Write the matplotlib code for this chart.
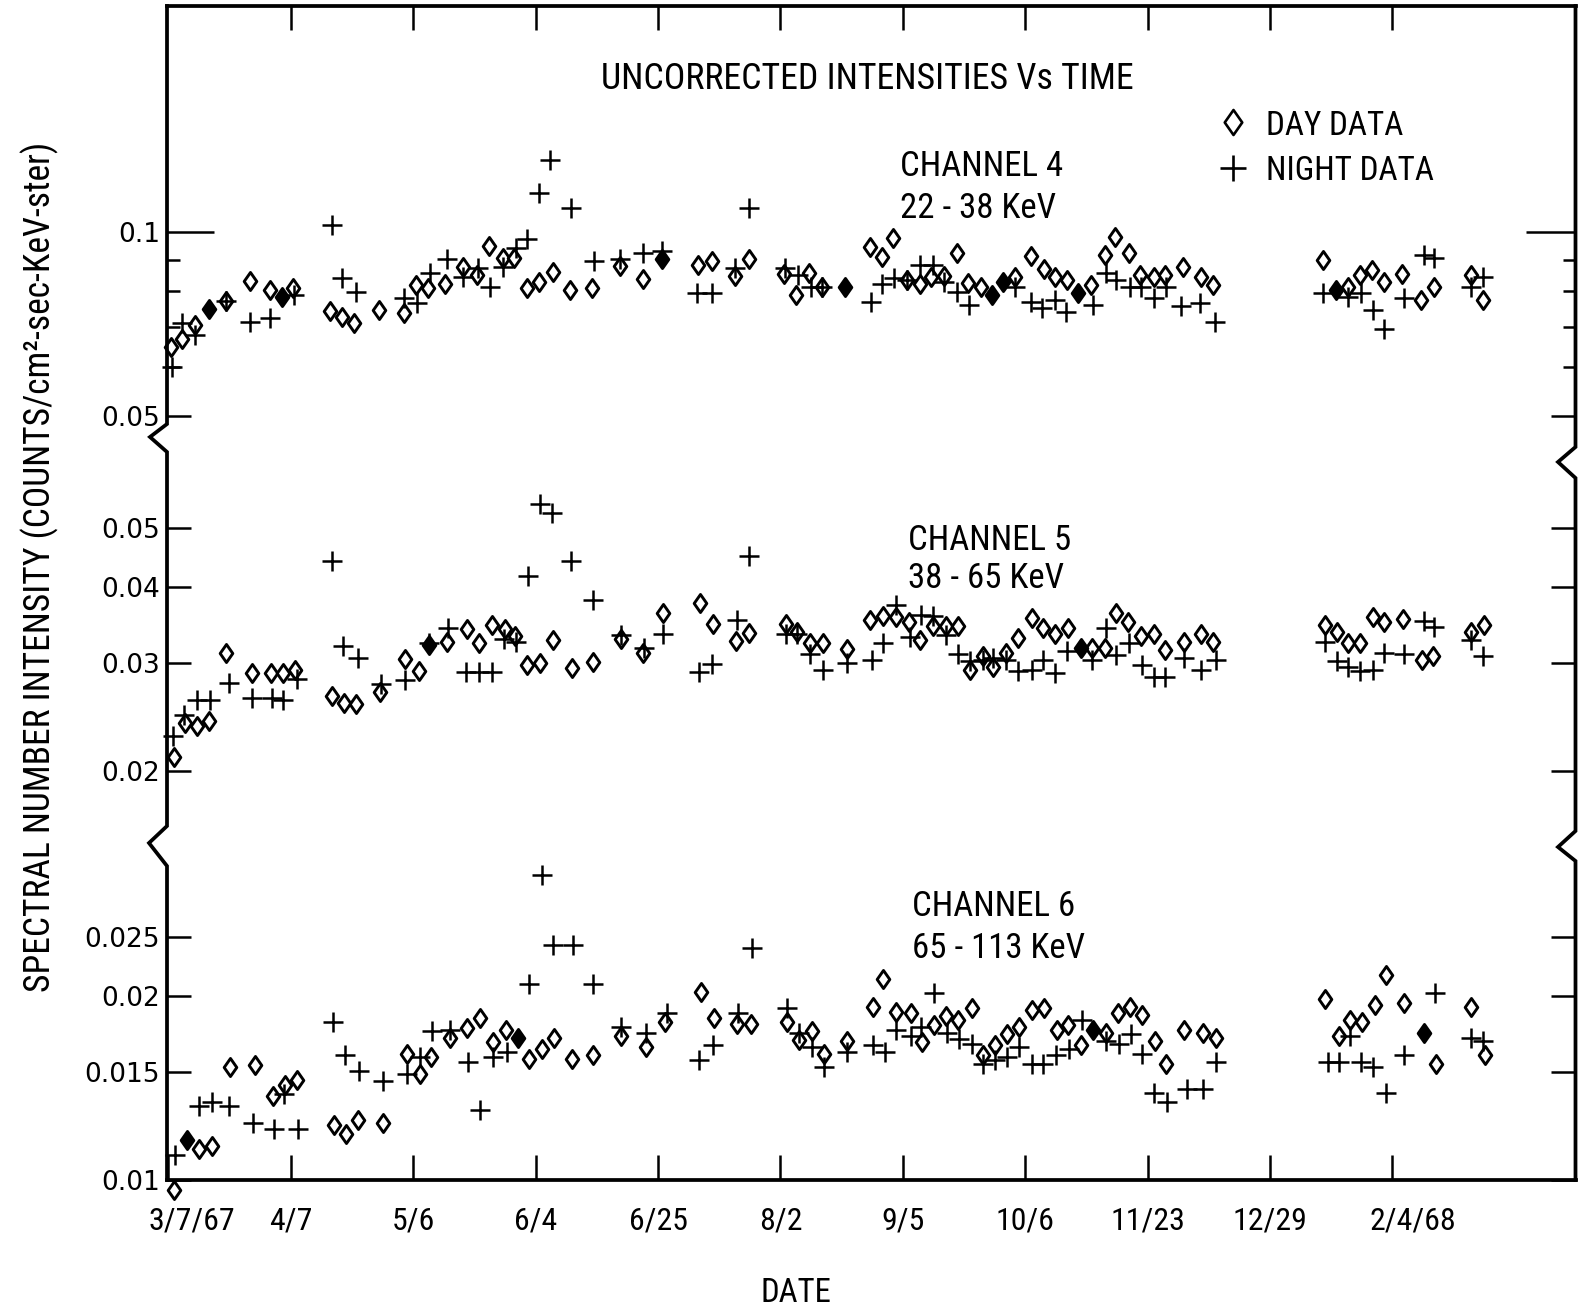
import matplotlib
matplotlib.use('Agg')
import matplotlib.pyplot as plt
import matplotlib.font_manager as fm
import matplotlib.ticker as mticker
from matplotlib.path import Path
from matplotlib.lines import Line2D
from matplotlib.transforms import ScaledTranslation

# ---------------- data (x = position on the date axis, 3/7/67 = 0, one unit per tick) -------------
date_labels = ['3/7/67', '4/7', '5/6', '6/4', '6/25', '8/2', '9/5', '10/6', '11/23', '12/29', '2/4/68']

ch4_day_x = [0.025, 0.115, 0.216, 0.469, 0.671, 0.828, 1.019, 1.324, 1.42, 1.52, 1.719, 1.926, 2.02, 2.12,
             2.26, 2.41, 2.52, 2.62, 2.73, 2.82, 2.926, 3.03, 3.14, 3.285, 3.457, 3.69, 3.88, 4.33, 4.445,
             4.63, 4.74, 5.03, 5.13, 5.23, 5.34, 5.73, 5.83, 5.92, 6.035, 6.14, 6.23, 6.34, 6.44, 6.53,
             6.635, 6.92, 7.05, 7.15, 7.24, 7.34, 7.54, 7.65, 7.735, 7.85, 7.94, 8.05, 8.14, 8.29, 8.437,
             8.53, 9.43, 9.64, 9.738, 9.83, 9.93, 10.08, 10.23, 10.34, 10.64, 10.74]
ch4_day_y = [0.0649, 0.0667, 0.0704, 0.077, 0.0831, 0.0803, 0.0808, 0.0743, 0.0726, 0.071, 0.0745, 0.0737,
             0.0818, 0.081, 0.0821, 0.0877, 0.085, 0.0948, 0.0905, 0.0905, 0.0808, 0.0829, 0.086, 0.0803,
             0.0808, 0.0879, 0.0836, 0.0882, 0.0897, 0.0846, 0.0901, 0.0853, 0.0788, 0.0857, 0.0813,
             0.0945, 0.0908, 0.0975, 0.0834, 0.0821, 0.0844, 0.0846, 0.0924, 0.0824, 0.0813, 0.0844,
             0.0913, 0.0868, 0.0844, 0.0834, 0.0818, 0.0916, 0.0979, 0.0924, 0.085, 0.0844, 0.085, 0.0875,
             0.0844, 0.0818, 0.0899, 0.0813, 0.085, 0.0866, 0.0829, 0.0853, 0.0773, 0.0813, 0.085, 0.0773]
ch4_solid_x = [0.333, 0.932, 4.03, 5.53, 6.725, 6.82, 7.435, 9.535]
ch4_solid_y = [0.0747, 0.0783, 0.0901, 0.0813, 0.0788, 0.0829, 0.0795, 0.0803]
ch4_night_x = [0.033, 0.115, 0.216, 0.469, 0.671, 0.828, 1.03, 1.333, 1.42, 1.537, 1.926, 2.03, 2.14, 2.28,
               2.41, 2.53, 2.63, 2.73, 2.84, 2.93, 3.03, 3.12, 3.29, 3.48, 3.69, 3.88, 4.03, 4.32, 4.44,
               4.63, 4.74, 5.04, 5.14, 5.25, 5.34, 5.74, 5.83, 5.93, 6.035, 6.14, 6.25, 6.34, 6.44, 6.54,
               6.92, 7.05, 7.14, 7.24, 7.33, 7.55, 7.66, 7.74, 7.855, 7.945, 8.05, 8.153, 8.27, 8.43, 8.55,
               9.436, 9.64, 9.744, 9.84, 9.93, 10.09, 10.255, 10.34, 10.64, 10.74]
ch4_night_y = [0.06, 0.0709, 0.0678, 0.077, 0.0713, 0.0722, 0.0788, 0.1025, 0.0839, 0.0798, 0.0778, 0.0764,
               0.0857, 0.0901, 0.0844, 0.0871, 0.0813, 0.0877, 0.094, 0.0972, 0.1158, 0.131, 0.1092, 0.0897,
               0.0901, 0.0922, 0.0931, 0.0793, 0.0793, 0.0871, 0.1092, 0.0871, 0.085, 0.0813, 0.0813,
               0.0769, 0.0821, 0.0839, 0.0834, 0.0882, 0.0882, 0.0829, 0.0798, 0.0759, 0.0813, 0.0769,
               0.075, 0.0773, 0.074, 0.0759, 0.0855, 0.0834, 0.0813, 0.0813, 0.0778, 0.0813, 0.0756, 0.0764,
               0.0713, 0.0795, 0.0783, 0.0793, 0.0745, 0.0693, 0.0778, 0.0916, 0.0905, 0.0813, 0.0844]

ch5_day_x = [0.047, 0.136, 0.232, 0.335, 0.471, 0.681, 0.836, 0.94, 1.035, 1.335, 1.435, 1.533, 1.73, 1.934,
             2.05, 2.28, 2.44, 2.54, 2.64, 2.75, 2.83, 2.93, 3.04, 3.145, 3.295, 3.473, 3.695, 3.875, 4.04,
             4.343, 4.447, 4.635, 4.746, 5.046, 5.138, 5.24, 5.346, 5.547, 5.732, 5.84, 5.944, 6.053, 6.14,
             6.244, 6.353, 6.448, 6.549, 6.652, 6.74, 6.843, 6.943, 7.053, 7.147, 7.243, 7.35, 7.543, 7.65,
             7.741, 7.84, 7.946, 8.048, 8.14, 8.295, 8.437, 8.537, 9.445, 9.545, 9.638, 9.738, 9.837,
             9.934, 10.084, 10.24, 10.33, 10.638, 10.746]
ch5_day_y = [0.0211, 0.024, 0.0237, 0.0241, 0.0312, 0.0289, 0.0289, 0.0289, 0.0293, 0.0265, 0.0258, 0.0257,
             0.0269, 0.0305, 0.0291, 0.0325, 0.0341, 0.0324, 0.0347, 0.0341, 0.0333, 0.0298, 0.03, 0.0327,
             0.0295, 0.0301, 0.0329, 0.0312, 0.0362, 0.0376, 0.0348, 0.0326, 0.0336, 0.0348, 0.0338,
             0.0324, 0.0324, 0.0316, 0.0353, 0.0358, 0.0357, 0.0351, 0.0327, 0.0345, 0.0345, 0.0345,
             0.0293, 0.0308, 0.0296, 0.0312, 0.033, 0.0356, 0.0342, 0.0335, 0.0342, 0.0318, 0.0318, 0.0362,
             0.0351, 0.0333, 0.0335, 0.0315, 0.0325, 0.0335, 0.0325, 0.0347, 0.0338, 0.0324, 0.0324,
             0.0357, 0.0351, 0.0354, 0.0304, 0.0308, 0.0338, 0.0347]
ch5_solid_x = [2.13, 7.452]
ch5_solid_y = [0.0321, 0.0318]
ch5_night_x = [0.04, 0.128, 0.237, 0.34, 0.498, 0.681, 0.845, 0.94, 1.05, 1.335, 1.425, 1.552, 1.735, 1.934,
               2.13, 2.287, 2.43, 2.535, 2.64, 2.74, 2.84, 2.94, 3.035, 3.13, 3.287, 3.473, 3.695, 3.886,
               4.043, 4.337, 4.44, 4.643, 4.746, 5.046, 5.138, 5.24, 5.346, 5.547, 5.745, 5.84, 5.944,
               6.059, 6.15, 6.249, 6.353, 6.448, 6.549, 6.652, 6.74, 6.843, 6.943, 7.053, 7.147, 7.243,
               7.345, 7.549, 7.657, 7.741, 7.85, 7.954, 8.048, 8.14, 8.295, 8.437, 8.559, 9.445, 9.545,
               9.638, 9.738, 9.843, 9.934, 10.092, 10.255, 10.34, 10.64, 10.737]
ch5_night_y = [0.0228, 0.0247, 0.0261, 0.0261, 0.0278, 0.0263, 0.0263, 0.0261, 0.0283, 0.044, 0.032, 0.0306,
               0.0277, 0.0282, 0.0324, 0.0342, 0.029, 0.029, 0.029, 0.0329, 0.0325, 0.0417, 0.0547, 0.0528,
               0.044, 0.038, 0.0334, 0.0318, 0.0335, 0.029, 0.0299, 0.0353, 0.0449, 0.0335, 0.0335, 0.0311,
               0.0293, 0.03, 0.0304, 0.0324, 0.0373, 0.0331, 0.036, 0.0358, 0.0334, 0.0311, 0.0302, 0.0304,
               0.0306, 0.0304, 0.0291, 0.0293, 0.0304, 0.0289, 0.0314, 0.0304, 0.0342, 0.031, 0.0324,
               0.0298, 0.0285, 0.0285, 0.0306, 0.0292, 0.0304, 0.0325, 0.0302, 0.0296, 0.0291, 0.0293,
               0.0312, 0.0311, 0.0352, 0.0344, 0.0328, 0.0308]

ch6_day_x = [0.047, 0.253, 0.355, 0.504, 0.708, 0.858, 0.953, 1.054, 1.354, 1.452, 1.552, 1.751, 1.947, 2.056,
             2.143, 2.3, 2.442, 2.546, 2.655, 2.758, 2.949, 3.05, 3.153, 3.295, 3.472, 3.695, 3.9, 4.057,
             4.35, 4.457, 4.648, 4.757, 5.051, 5.154, 5.256, 5.359, 5.547, 5.754, 5.84, 5.944, 6.064,
             6.154, 6.257, 6.353, 6.448, 6.563, 6.657, 6.753, 6.848, 6.951, 7.053, 7.153, 7.257, 7.35,
             7.452, 7.657, 7.756, 7.855, 7.955, 8.06, 8.153, 8.295, 8.451, 8.559, 9.451, 9.559, 9.65,
             9.752, 9.857, 9.951, 10.098, 10.354, 10.644, 10.752]
ch6_day_y = [0.00964, 0.01124, 0.01137, 0.0153, 0.0154, 0.0137, 0.0143, 0.0146, 0.0123, 0.0119, 0.01254,
             0.0124, 0.0161, 0.0149, 0.0159, 0.0171, 0.0177, 0.0184, 0.0168, 0.0176, 0.0158, 0.0164, 0.0171,
             0.0158, 0.016, 0.0172, 0.01653, 0.0181, 0.0203, 0.0184, 0.018, 0.018, 0.0181, 0.01697, 0.0175,
             0.0161, 0.0169, 0.0192, 0.0213, 0.0188, 0.01875, 0.0168, 0.0179, 0.01855, 0.0183, 0.0191,
             0.016, 0.0166, 0.0173, 0.0178, 0.019, 0.0191, 0.0176, 0.0179, 0.0166, 0.0174, 0.01875, 0.0192,
             0.0186, 0.0169, 0.0155, 0.0176, 0.0174, 0.0171, 0.0198, 0.0172, 0.0183, 0.0181, 0.0193,
             0.02165, 0.0195, 0.0155, 0.0192, 0.016]
ch6_solid_x = [0.15, 2.859, 7.557, 10.255]
ch6_solid_y = [0.01163, 0.0171, 0.0176, 0.0174]
ch6_night_x = [0.055, 0.253, 0.355, 0.498, 0.694, 0.863, 0.945, 1.063, 1.343, 1.443, 1.56, 1.751, 1.947,
               2.056, 2.15, 2.3, 2.45, 2.546, 2.65, 2.764, 2.949, 3.05, 3.145, 3.308, 3.472, 3.695, 3.9,
               4.076, 4.337, 4.447, 4.656, 4.766, 5.051, 5.154, 5.256, 5.359, 5.547, 5.754, 5.855, 5.944,
               6.064, 6.15, 6.257, 6.359, 6.462, 6.563, 6.657, 6.753, 6.848, 6.951, 7.053, 7.147, 7.251,
               7.358, 7.464, 7.657, 7.764, 7.861, 7.955, 8.054, 8.162, 8.324, 8.451, 8.559, 9.474, 9.559,
               9.65, 9.743, 9.843, 9.951, 10.098, 10.348, 10.644, 10.737]
ch6_night_y = [0.011, 0.0132, 0.0134, 0.0132, 0.0124, 0.0121, 0.0138, 0.0121, 0.0181, 0.016, 0.0151, 0.0145,
               0.0149, 0.0159, 0.0175, 0.0176, 0.0156, 0.013, 0.0159, 0.0162, 0.0209, 0.0315, 0.0242, 0.0242,
               0.0209, 0.0178, 0.0174, 0.01875, 0.01572, 0.01662, 0.01875, 0.024, 0.0191, 0.0174, 0.0165,
               0.0153, 0.0162, 0.0166, 0.0162, 0.0176, 0.0172, 0.0178, 0.0202, 0.0174, 0.017, 0.0167, 0.0155,
               0.0157, 0.0159, 0.01653, 0.0155, 0.0155, 0.016, 0.0164, 0.0183, 0.0169, 0.0167, 0.0173,
               0.0161, 0.0139, 0.0134, 0.0141, 0.0141, 0.0156, 0.0156, 0.0156, 0.0172, 0.0156, 0.0153,
               0.0139, 0.016, 0.0202, 0.0171, 0.0169]

# ---------------- layout ----------------
W, H = 1595, 1312
fig = plt.figure(figsize=(W / 100, H / 100), dpi=100)
fig.patch.set_facecolor('white')
renderer = fig.canvas.get_renderer()

# pick a narrow lettering font if one is installed
fonts = fm.fontManager.ttflist
names = {f.name for f in fonts}
NARROW, STRETCH = 'DejaVu Sans', 'normal'
for cand in ['Liberation Sans Narrow', 'Roboto Condensed', 'Open Sans Condensed', 'Noto Sans Condensed']:
    if cand in names:
        NARROW = cand
        break
else:
    for fam in ['DejaVu Sans', 'Noto Sans', 'Open Sans', 'Roboto']:
        if any(f.name == fam and str(f.stretch) in ('condensed', 'semi-condensed', 'extra-condensed')
               for f in fonts):
            NARROW, STRETCH = fam, 'condensed'
            break
NUMFONT = 'DejaVu Sans'


def fx(px):
    return px / W


def fy(py):
    return 1 - py / H


def fit_size(s, target, rot=0):
    # font size that gives the lettering its width in the reference
    t = fig.text(0, 0, s, fontsize=20, family=NARROW, fontstretch=STRETCH, rotation=rot)
    bb = t.get_window_extent(renderer)
    t.remove()
    return 20 * target / (bb.height if rot else bb.width)


LEFT, RIGHT = 167, 1575.5
TOP, BRK1, BRK2, BOT = 6, 440, 842, 1180
LW = 2.7

DIAMOND = Path([(0, 1), (0.7, 0), (0, -1), (-0.7, 0), (0, 1)],
               [Path.MOVETO, Path.LINETO, Path.LINETO, Path.LINETO, Path.CLOSEPOLY])

panels = [
    (TOP, BRK1, (0.04567, 0.2338), ch4_day_x, ch4_day_y, ch4_solid_x, ch4_solid_y, ch4_night_x, ch4_night_y),
    (BRK1, BRK2, (0.01531, 0.0695), ch5_day_x, ch5_day_y, ch5_solid_x, ch5_solid_y, ch5_night_x, ch5_night_y),
    (BRK2, BOT, (0.01, 0.03571), ch6_day_x, ch6_day_y, ch6_solid_x, ch6_solid_y, ch6_night_x, ch6_night_y),
]

axes = []
for top, bot, ylim, dx, dy, sx, sy, nx, ny in panels:
    ax = fig.add_axes([fx(LEFT), fy(bot), fx(RIGHT) - fx(LEFT), (bot - top) / H])
    ax.set_facecolor('none')
    ax.set_yscale('log')
    ax.set_xlim(-0.011, 11.495)
    ax.set_ylim(*ylim)
    for s in ax.spines.values():
        s.set_visible(False)
    ax.plot(dx, dy, ls='none', marker=DIAMOND, ms=13, mfc='white', mec='black', mew=2.1, clip_on=False, zorder=3)
    ax.plot(sx, sy, ls='none', marker=DIAMOND, ms=13, mfc='black', mec='black', mew=2.1, clip_on=False, zorder=3)
    ax.plot(nx, ny, ls='none', marker='+', ms=14, mec='black', mew=1.8, clip_on=False, zorder=4)
    ax.yaxis.set_minor_formatter(mticker.NullFormatter())
    ax.yaxis.set_minor_locator(mticker.NullLocator())
    axes.append(ax)

ax1, ax2, ax3 = axes

# y ticks
ax1.set_yticks([0.1, 0.05], ['0.1', '0.05'])
ax1.yaxis.set_minor_locator(mticker.FixedLocator([0.09, 0.08, 0.07, 0.06]))
ax2.set_yticks([0.05, 0.04, 0.03, 0.02], ['0.05', '0.04', '0.03', '0.02'])
ax3.set_yticks([0.025, 0.02, 0.015, 0.01], ['0.025', '0.02', '0.015', '0.01'])

for ax in axes:
    ax.tick_params(axis='y', which='major', direction='in', length=17, width=1.8, left=True, right=True,
                   labelsize=19, pad=5, labelfontfamily=NUMFONT)
    ax.tick_params(axis='y', which='minor', direction='in', length=9, width=1.8, left=True, right=True)
    ax.set_xticks([])

# top x ticks
ax1.set_xticks(range(1, len(date_labels)))
ax1.tick_params(axis='x', direction='in', length=17, width=1.8, top=True, bottom=False,
                labeltop=False, labelbottom=False)
# bottom x ticks with dates
ax3.set_xticks(range(len(date_labels)), date_labels)
ax3.tick_params(axis='x', direction='in', length=18, width=1.8, top=False, bottom=True,
                labelsize=fit_size('11/23', 69) * 1.08, pad=19)
for lbl in ax3.get_xticklabels():
    lbl.set_family(NARROW)
    lbl.set_stretch(STRETCH)
xl = ax3.get_xticklabels()
xl[0].set_transform(xl[0].get_transform() + ScaledTranslation(0.23, 0, fig.dpi_scale_trans))
xl[-1].set_transform(xl[-1].get_transform() + ScaledTranslation(0.2, 0, fig.dpi_scale_trans))

# long tick at 0.1
t01 = ax1.yaxis.get_major_ticks()[0]
t01.tick1line.set_markersize(34)
t01.tick2line.set_markersize(35)

# ---------------- frame with axis breaks ----------------
frame_left = [(LEFT, TOP), (LEFT, 424), (150, 437), (LEFT, 452), (LEFT, 826), (149, 843), (LEFT, 866),
              (LEFT, BOT)]
frame_right = [(RIGHT, TOP), (RIGHT, 447), (1558, 462), (RIGHT, 478), (RIGHT, 831), (1558, 847),
               (RIGHT, 861), (RIGHT, BOT)]
for pts in (frame_left, frame_right, [(LEFT, TOP), (RIGHT, TOP)], [(LEFT, BOT), (RIGHT, BOT)]):
    fig.add_artist(Line2D([fx(p[0]) for p in pts], [fy(p[1]) for p in pts], color='black', lw=LW,
                          solid_joinstyle='miter', transform=fig.transFigure))

# ---------------- texts ----------------
txt = dict(family=NARROW, fontstretch=STRETCH)
title = 'UNCORRECTED INTENSITIES Vs TIME'
fig.text(fx(867), fy(79), title, ha='center', va='center', fontsize=fit_size(title, 532), **txt)

chan = [('CHANNEL 4', '22 - 38 KeV', 900, 166, 209),
        ('CHANNEL 5', '38 - 65 KeV', 908, 541, 579),
        ('CHANNEL 6', '65 - 113 KeV', 912, 906, 948)]
csize = fit_size('CHANNEL 4', 163)
for l1, l2, x0, y1, y2 in chan:
    fig.text(fx(x0), fy(y1), l1, ha='left', va='center', fontsize=csize, **txt)
    fig.text(fx(x0), fy(y2), l2, ha='left', va='center', fontsize=csize, **txt)

# legend keys
lsize = fit_size('NIGHT DATA', 168)
fig.add_artist(Line2D([fx(1233)], [fy(122)], ls='none', marker=DIAMOND, ms=18, mfc='white', mec='black',
                      mew=1.9, transform=fig.transFigure))
fig.add_artist(Line2D([fx(1233)], [fy(168)], ls='none', marker='+', ms=19, mec='black', mew=1.9,
                      transform=fig.transFigure))
fig.text(fx(1266), fy(126), 'DAY DATA', ha='left', va='center', fontsize=lsize, **txt)
fig.text(fx(1266), fy(171), 'NIGHT DATA', ha='left', va='center', fontsize=lsize, **txt)

ylab = 'SPECTRAL NUMBER INTENSITY (COUNTS/cm\u00b2-sec-KeV-ster)'
fig.text(fx(40), fy(567), ylab, rotation=90, ha='center', va='center',
         fontsize=fit_size(ylab, 849, rot=90), **txt)
fig.text(fx(796), fy(1293), 'DATE', ha='center', va='center', fontsize=fit_size('DATE', 71), **txt)

fig.savefig('out.png', dpi=100, facecolor='white')
